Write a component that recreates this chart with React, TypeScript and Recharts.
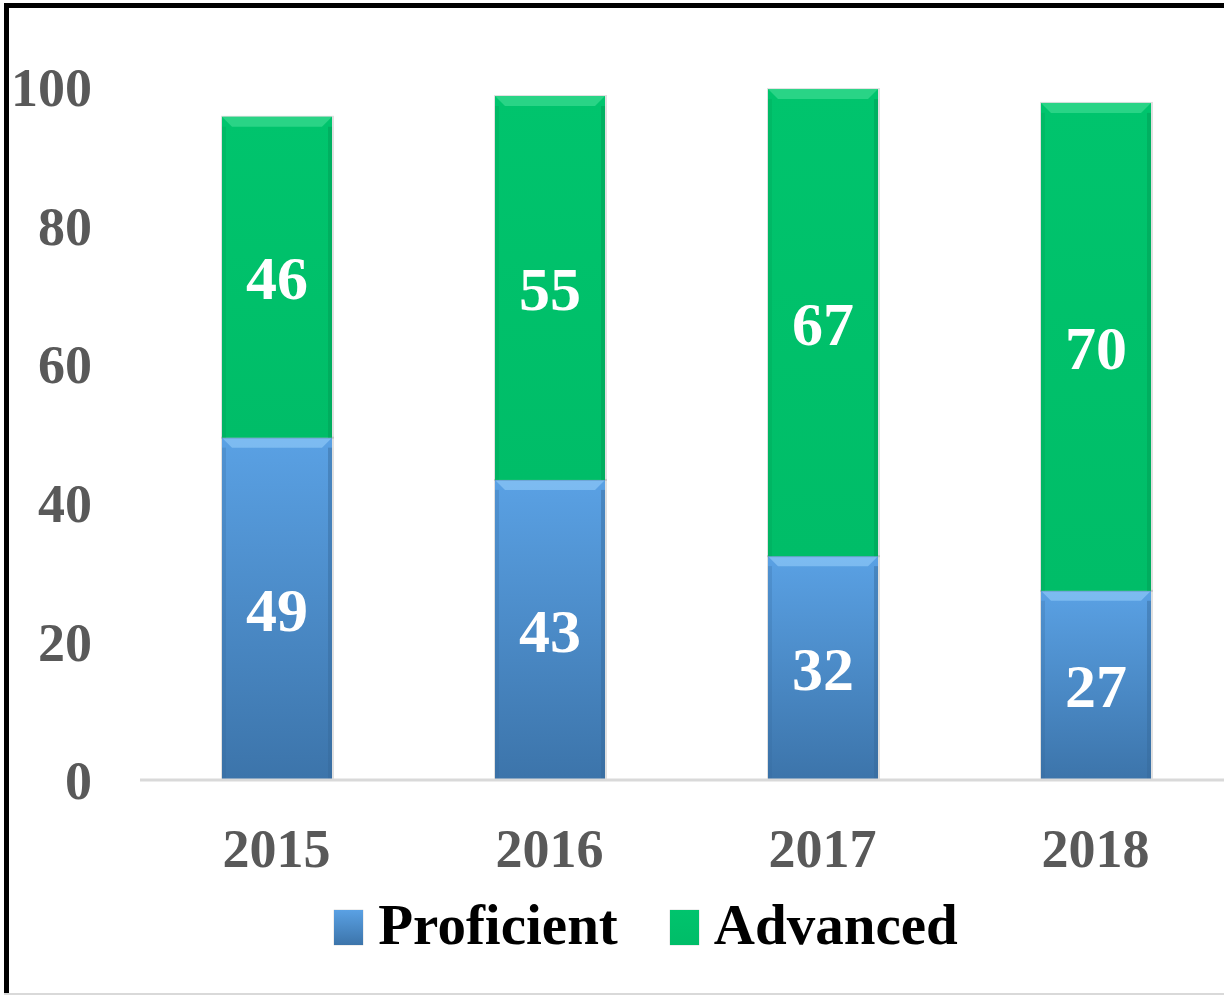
import { BarChart, Bar, XAxis, YAxis, Legend, LabelList } from "recharts"

const years = ["2015", "2016", "2017", "2018"]
const proficient = [49.4, 43.3, 32.3, 27.3]
const advanced = [46.3, 55.4, 67.4, 70.4]
const yTicks = [0, 20, 40, 60, 80, 100]

const data = years.map((year, i) => ({ year, Proficient: proficient[i], Advanced: advanced[i] }))

const FONT = "'Palatino Linotype', 'Book Antiqua', 'Liberation Serif', serif"

const palette: Record<string, { top: string; bottom: string; bevel: string; edge: string }> = {
  Proficient: { top: "#5aa1e4", bottom: "#3c74aa", bevel: "#8cc6f7", edge: "#35689a" },
  Advanced: { top: "#00c46d", bottom: "#00bd68", bevel: "#3adb92", edge: "#009a52" },
}

function BevelBar(props: any) {
  const { x, y, width, height, dataKey } = props
  if (!height || height <= 0) return null
  const c = palette[dataKey]
  const b = 10
  const s = 4
  return (
    <g>
      <rect x={x - 1} y={y - 1} width={width + 3} height={height + 2} fill="rgba(0,0,0,0.12)" />
      <rect x={x} y={y} width={width} height={height} fill={`url(#grad-${dataKey})`} />
      <polygon points={`${x},${y} ${x + width},${y} ${x + width - b},${y + b} ${x + b},${y + b}`} fill={c.bevel} opacity={0.7} />
      <rect x={x} y={y + b} width={s} height={height - b} fill={c.edge} opacity={0.25} />
      <rect x={x + width - s} y={y + b} width={s} height={height - b} fill={c.edge} opacity={0.45} />
    </g>
  )
}

function LegendBox() {
  return (
    <div style={{ height: 135, display: "flex", justifyContent: "center", alignItems: "flex-start", paddingTop: 35, paddingLeft: 60, boxSizing: "border-box" }}>
      {["Proficient", "Advanced"].map((name) => (
        <div key={name} style={{ display: "flex", alignItems: "center", margin: "0 26px" }}>
          <div
            style={{
              width: 29,
              height: 35,
              background: `linear-gradient(${palette[name].top}, ${palette[name].bottom})`,
              boxShadow: "0 0 1px rgba(0,0,0,0.4)",
              marginRight: 15,
              marginTop: 4,
            }}
          />
          <span style={{ fontFamily: FONT, fontWeight: "bold", fontSize: 57, color: "#000", lineHeight: "60px" }}>{name}</span>
        </div>
      ))}
    </div>
  )
}

export default function App() {
  return (
    <div style={{ position: "absolute", left: 0, top: 0, width: 1224, height: 995, overflow: "hidden", background: "#fff" }}>
      <div style={{ position: "absolute", left: 4, top: 3, width: 5, height: 992, background: "#000" }} />
      <div style={{ position: "absolute", left: 4, top: 3, width: 1224, height: 5, background: "#000" }} />
      <div style={{ position: "absolute", left: 4, top: 993, width: 1224, height: 2, background: "#d9d9d9" }} />
      <div style={{ position: "absolute", left: 0, top: 0 }}>
        <BarChart width={1232} height={995} data={data} margin={{ top: 87, right: 0, bottom: 0, left: 0 }} barSize={110}>
          <defs>
            {Object.keys(palette).map((k) => (
              <linearGradient key={k} id={`grad-${k}`} x1="0" y1="0" x2="0" y2="1">
                <stop offset="0%" stopColor={palette[k].top} />
                <stop offset="100%" stopColor={palette[k].bottom} />
              </linearGradient>
            ))}
          </defs>
          <XAxis
            dataKey="year"
            height={80}
            axisLine={{ stroke: "#d9d9d9", strokeWidth: 3 }}
            tickLine={false}
            tickSize={0}
            tickMargin={49}
            tick={{ fill: "#595959", fontSize: 54, fontWeight: "bold", fontFamily: FONT }}
          />
          <YAxis
            width={140}
            domain={[0, 100]}
            ticks={yTicks}
            axisLine={false}
            tickLine={false}
            tickSize={0}
            tickMargin={48}
            tick={{ fill: "#595959", fontSize: 54, fontWeight: "bold", fontFamily: FONT }}
          />
          <Legend verticalAlign="bottom" height={135} content={() => <LegendBox />} />
          <Bar dataKey="Proficient" stackId="a" shape={<BevelBar />} isAnimationActive={false}>
            <LabelList
              dataKey="Proficient"
              position="center"
              formatter={(v: any) => Math.round(Number(v))}
              style={{ fill: "#fff", fontSize: 62, fontWeight: "bold", fontFamily: FONT }}
            />
          </Bar>
          <Bar dataKey="Advanced" stackId="a" shape={<BevelBar />} isAnimationActive={false}>
            <LabelList
              dataKey="Advanced"
              position="center"
              formatter={(v: any) => Math.round(Number(v))}
              style={{ fill: "#fff", fontSize: 62, fontWeight: "bold", fontFamily: FONT }}
            />
          </Bar>
        </BarChart>
      </div>
    </div>
  )
}
